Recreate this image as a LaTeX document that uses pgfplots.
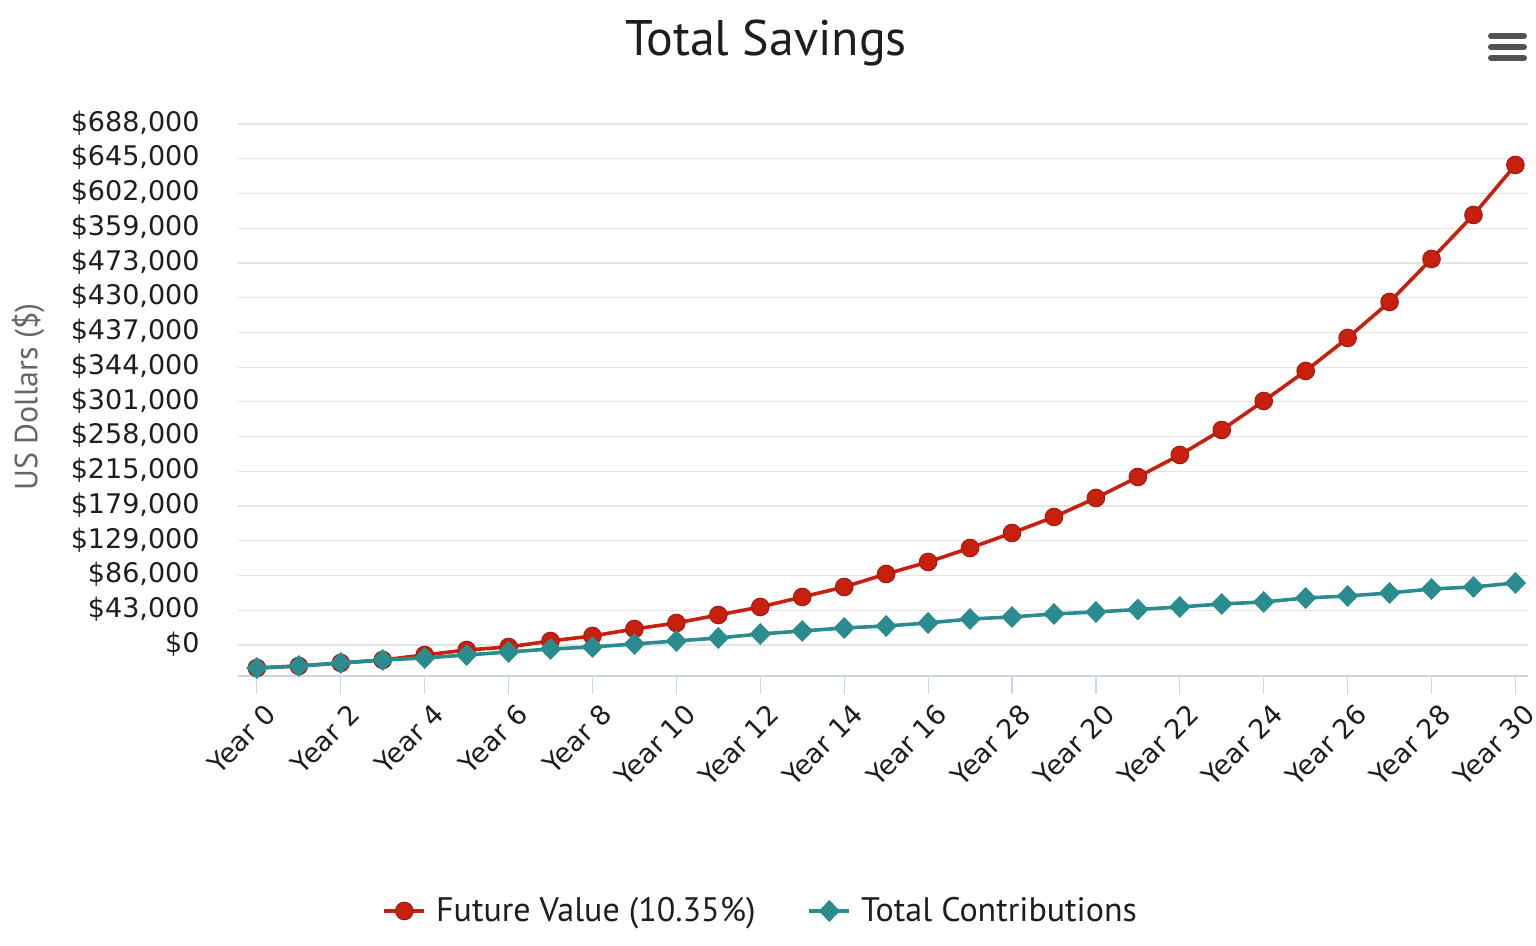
\documentclass[border=0pt]{standalone}
\usepackage{fontspec}
\setmainfont{DejaVu Sans}
\newfontfamily\ptsans{PT Sans}
\usepackage{pgfplots}
\pgfplotsset{compat=1.18}
\definecolor{fvred}{RGB}{200,32,14}
\definecolor{fvredd}{RGB}{165,25,12}
\definecolor{tcteal}{RGB}{42,140,142}
\definecolor{gridgray}{RGB}{228,228,228}
\definecolor{axisblue}{RGB}{204,214,235}
\definecolor{txt}{RGB}{30,30,30}
\definecolor{lblgray}{RGB}{102,102,102}

\begin{document}
\begin{tikzpicture}
\path[use as bounding box] (0,0) rectangle (768bp,473bp);

% title, axis title and menu icon
\node[anchor=base, font=\ptsans\fontsize{25bp}{29bp}\selectfont, text=txt] at (383bp,445bp) {Total Savings};
\node[rotate=90, font=\ptsans\fontsize{16bp}{19bp}\selectfont, text=lblgray] at (14bp,274.5bp) {US Dollars (\$)};
\foreach \yy in {455,449.5,444}
  \draw[line width=3bp, line cap=round, lblgray!80!black] (745.5bp,\yy bp) -- (762bp,\yy bp);

\begin{axis}[
  at={(119bp,135bp)}, anchor=south west,
  scale only axis, width=645bp, height=276bp,
  xmin=-0.45, xmax=30.3,
  ymin=-38400, ymax=645000,
  axis lines*=left,
  x axis line style={draw=axisblue, line width=1bp},
  y axis line style={draw=none},
  ymajorgrids, grid style={gridgray, line width=0.6bp},
  xtick={0,2,...,30},
  xticklabels={Year 0,Year 2,Year 4,Year 6,Year 8,Year 10,Year 12,Year 14,Year 16,Year 28,Year 20,Year 22,Year 24,Year 26,Year 28,Year 30},
  ytick={0,43000,...,645000},
  yticklabels={\$0,\$43{,}000,\$86{,}000,\$129{,}000,\$179{,}000,\$215{,}000,\$258{,}000,\$301{,}000,\$344{,}000,\$437{,}000,\$430{,}000,\$473{,}000,\$359{,}000,\$602{,}000,\$645{,}000,\$688{,}000},
  scaled y ticks=false,
  xtick align=outside, major tick length=9bp,
  xtick style={draw=axisblue, line width=0.6bp},
  ytick style={draw=none},
  yticklabel style={font=\fontsize{13.5bp}{16bp}\selectfont, text=txt, inner sep=0pt, xshift=-19bp, yshift=0.5bp},
  xticklabel style={font=\fontsize{13.5bp}{16bp}\selectfont, text=txt, rotate=45, anchor=east, inner sep=0pt, xshift=-0.5bp, yshift=-10.5bp},
  legend style={at={(0.406,-0.4257)}, anchor=center, draw=none, fill=none,
    legend columns=2, font=\ptsans\fontsize{17bp}{20bp}\selectfont, text=txt,
    /tikz/every even column/.append style={column sep=24bp},
    /tikz/every odd column/.append style={column sep=3bp}},
  legend cell align=left,
  legend image code/.code={\draw[mark repeat=2,mark phase=2] plot coordinates {(0bp,0bp) (10bp,0bp) (20bp,0bp)};},
]
\addplot[fvred, line width=1.8bp, mark=*, mark size=4.4bp,
  mark options={fill=fvred, draw=fvredd, line width=0.5bp}] coordinates {
  (0,-28477) (1,-26000) (2,-22286) (3,-18572) (4,-12381) (5,-6190)
  (6,-2476) (7,4952) (8,11143) (9,19810) (10,27238) (11,37143)
  (12,47048) (13,59429) (14,71810) (15,87905) (16,102762) (17,120095)
  (18,138667) (19,158476) (20,182000) (21,208000) (22,235238) (23,266190)
  (24,302095) (25,339238) (26,380095) (27,424667) (28,477905) (29,532381)
  (30,594286)};
\addlegendentry{Future Value (10.35\%)}
\addplot[tcteal, line width=1.8bp, mark=diamond*, mark size=4.2bp,
  mark options={fill=tcteal, draw=tcteal, xscale=1.3}] coordinates {
  (0,-28476) (1,-26000) (2,-22286) (3,-18572) (4,-16095) (5,-12381)
  (6,-8667) (7,-4952) (8,-2476) (9,1238) (10,4952) (11,8667)
  (12,13619) (13,17333) (14,21048) (15,23524) (16,27238) (17,32190)
  (18,34667) (19,38381) (20,40857) (21,43952) (22,47048) (23,50762)
  (24,53238) (25,58190) (26,60667) (27,64381) (28,69333) (29,71810)
  (30,76762)};
\addlegendentry{Total Contributions}
\end{axis}
\end{tikzpicture}
\end{document}
